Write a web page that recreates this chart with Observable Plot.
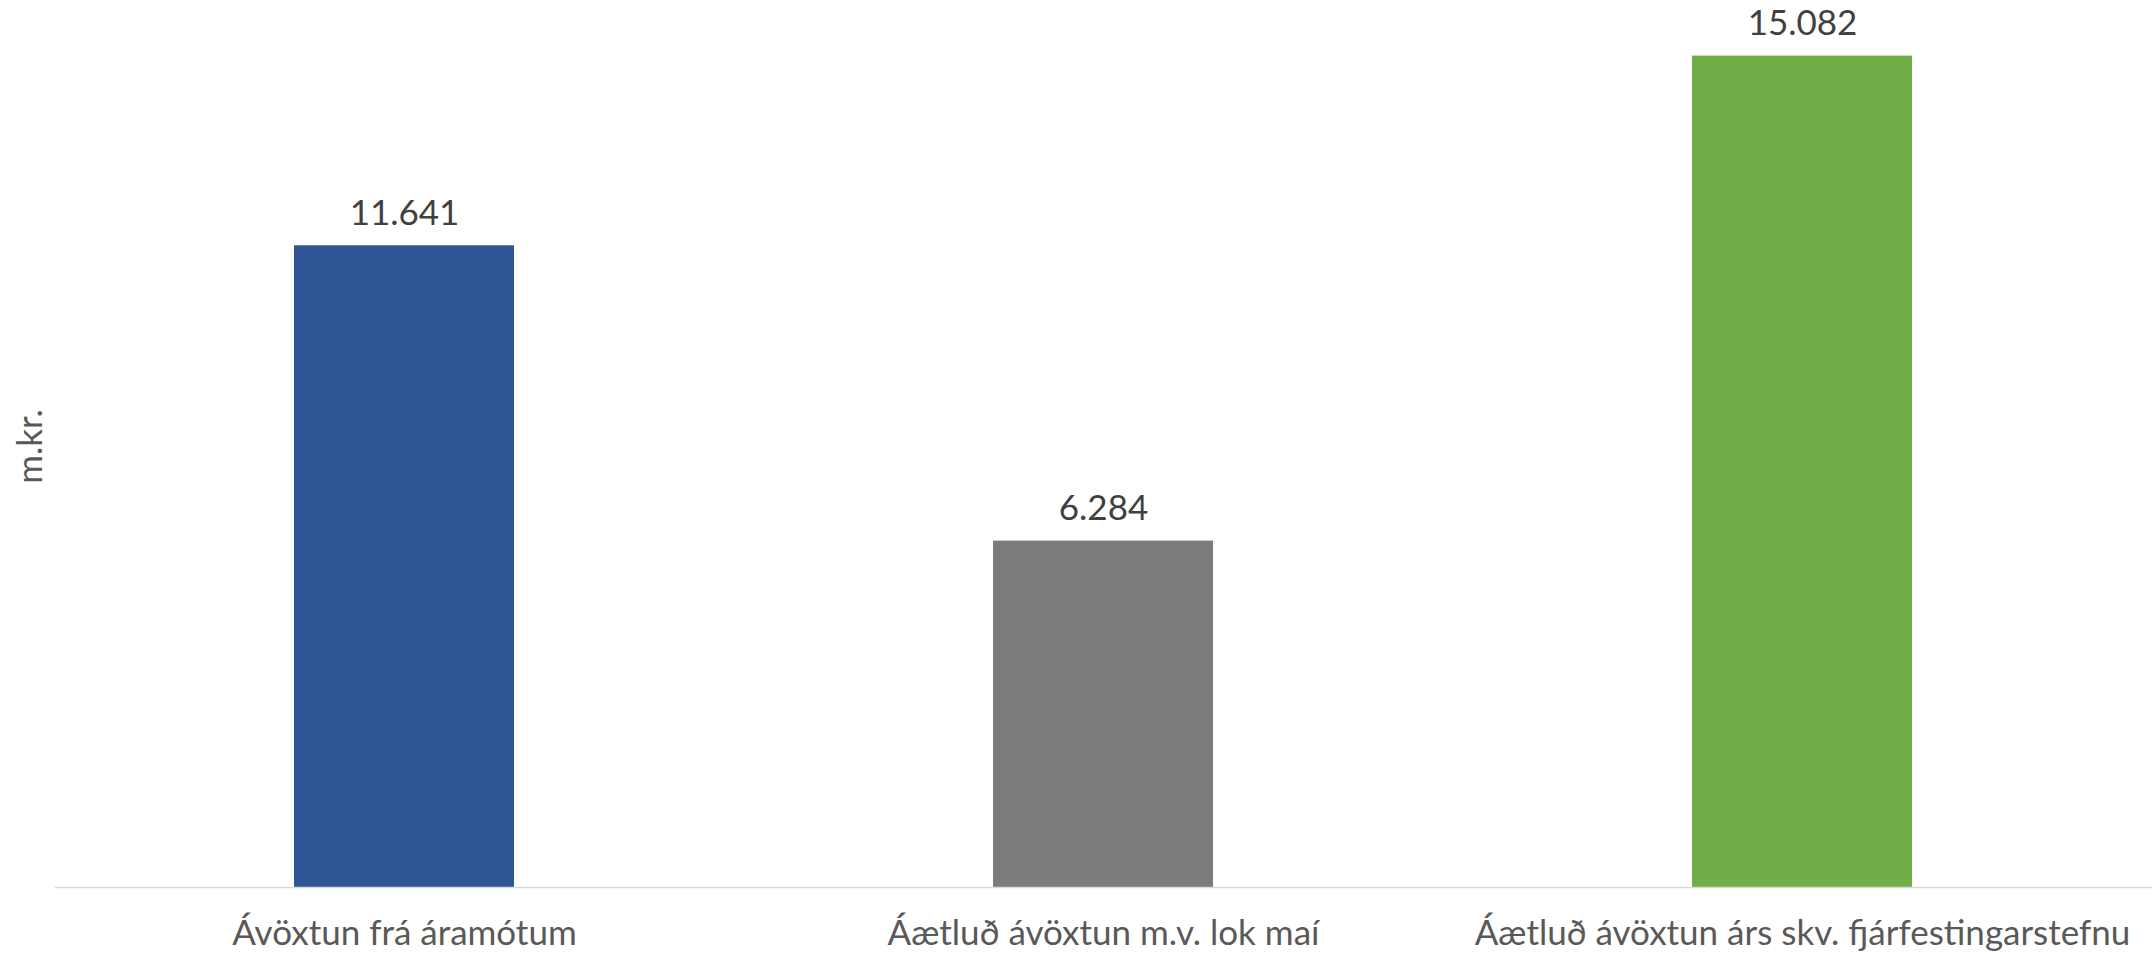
<!DOCTYPE html>
<html>
<head>
<meta charset="utf-8">
<script src="https://cdn.jsdelivr.net/npm/d3@7"></script>
<script src="https://cdn.jsdelivr.net/npm/@observablehq/plot@0.6"></script>
<style>
  html, body { margin: 0; padding: 0; background: #fff; overflow: hidden; }
</style>
</head>
<body>
<div id="chart"></div>
<script>
const categories = ["Ávöxtun frá áramótum", "Áætluð ávöxtun m.v. lok maí", "Áætluð ávöxtun árs skv. fjárfestingarstefnu"];
const values = [11641, 6284, 15082];
const colors = ["#2F5597", "#7B7B7B", "#70AD47"];
const yLabel = "m.kr.";

const data = categories.map((c, i) => ({cat: c, value: values[i], color: colors[i]}));
const fmt = d3.formatLocale({thousands: ".", decimal: ",", grouping: [3], currency: ["", ""]}).format(",d");

const chart = Plot.plot({
  width: 2153,
  height: 954,
  marginLeft: 55,
  marginRight: 1,
  marginTop: 5,
  marginBottom: 67,
  style: {fontFamily: "Lato, 'Open Sans', sans-serif", background: "#fff"},
  x: {domain: categories, paddingInner: 0.685, paddingOuter: 0.3425, label: null},
  y: {domain: [0, 16000], axis: null},
  marks: [
    Plot.barY(data, {x: "cat", y: "value", fill: "color"}),
    Plot.ruleY([0], {stroke: "#D9D9D9", strokeWidth: 1.5}),
    Plot.text(data, {x: "cat", y: "value", text: d => fmt(d.value), dy: -21, lineAnchor: "bottom", fontSize: 35, fill: "#404040"}),
    Plot.axisX({tickSize: 0, tickPadding: 33, fontSize: 35, color: "#595959", label: null}),
    Plot.text([yLabel], {frameAnchor: "left", textAnchor: "middle", lineAnchor: "middle", rotate: -90, dx: -25, fontSize: 35, fill: "#595959"})
  ]
});
document.getElementById("chart").appendChild(chart);
</script>
</body>
</html>
